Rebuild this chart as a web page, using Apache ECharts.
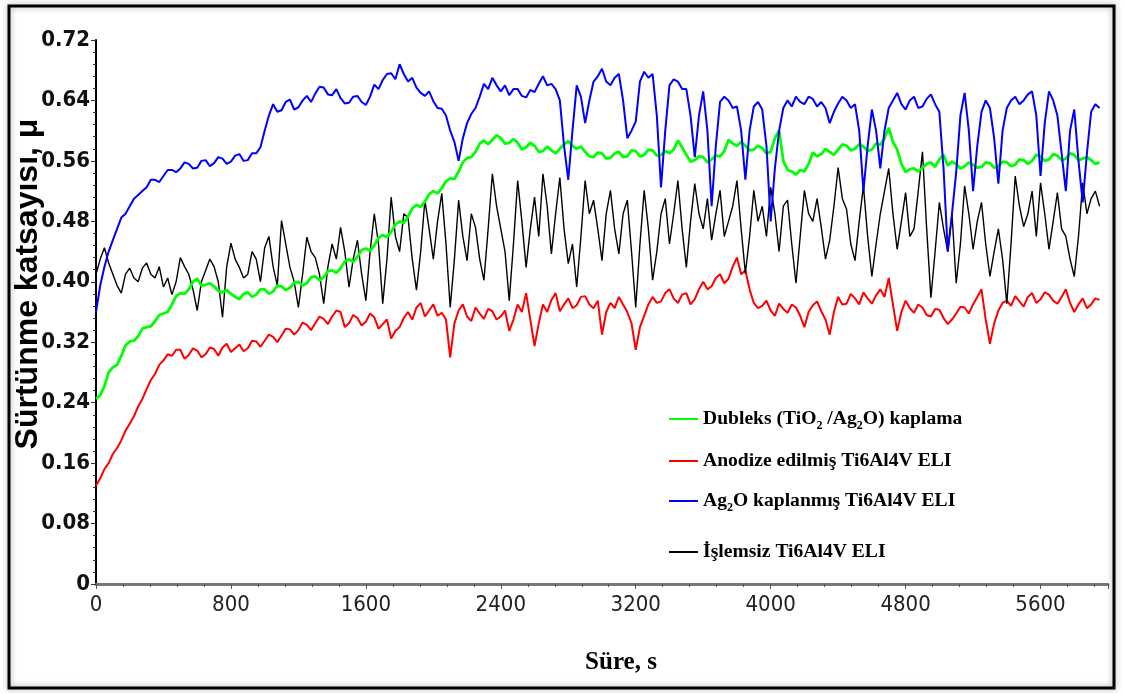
<!DOCTYPE html>
<html>
<head>
<meta charset="utf-8">
<title>Sürtünme katsayısı</title>
<script src="https://cdn.jsdelivr.net/npm/echarts@6/dist/echarts.min.js"></script>
<style>
  html, body { margin: 0; padding: 0; background: #fff; }
  #chart { width: 1124px; height: 693px; }
</style>
</head>
<body>
<div id="chart"></div>
<script>
// sampling step of the read-off values, seconds
const STEP = 25;

const seriesNames = [
  'Dubleks (TiO2 /Ag2O) kaplama',
  'Anodize edilmiş Ti6Al4V ELI',
  'Ag2O kaplanmış Ti6Al4V ELI',
  'İşlemsiz Ti6Al4V ELI'
];

const xTicks = [0, 800, 1600, 2400, 3200, 4000, 4800, 5600];
const yTicks = [0, 0.08, 0.16, 0.24, 0.32, 0.40, 0.48, 0.56, 0.64, 0.72];

// Dubleks (TiO2/Ag2O)
const dubleks = [
  0.245, 0.25, 0.262, 0.28, 0.287, 0.29, 0.302, 0.316, 0.321, 0.322,
  0.328, 0.338, 0.34, 0.341, 0.348, 0.356, 0.358, 0.36, 0.37, 0.381,
  0.385, 0.384, 0.39, 0.4, 0.404, 0.395, 0.396, 0.398, 0.394, 0.388,
  0.386, 0.389, 0.384, 0.38, 0.377, 0.384, 0.386, 0.38, 0.383, 0.39,
  0.39, 0.384, 0.387, 0.395, 0.394, 0.389, 0.392, 0.399, 0.4, 0.395,
  0.398, 0.406, 0.407, 0.402, 0.406, 0.414, 0.415, 0.412, 0.418, 0.427,
  0.43, 0.426, 0.433, 0.442, 0.444, 0.441, 0.448, 0.458, 0.462, 0.459,
  0.466, 0.476, 0.48, 0.478, 0.486, 0.497, 0.502, 0.499, 0.506, 0.516,
  0.52, 0.517, 0.524, 0.533, 0.537, 0.536, 0.546, 0.558, 0.564, 0.565,
  0.572, 0.583, 0.587, 0.582, 0.588, 0.594, 0.59, 0.583, 0.584, 0.589,
  0.584, 0.575, 0.578, 0.584, 0.58, 0.572, 0.573, 0.579, 0.574, 0.57,
  0.576, 0.582, 0.586, 0.58, 0.576, 0.579, 0.572, 0.566, 0.565, 0.571,
  0.57, 0.563, 0.564, 0.57, 0.572, 0.565, 0.566, 0.574, 0.573, 0.566,
  0.568, 0.575, 0.574, 0.567, 0.568, 0.573, 0.57, 0.575, 0.587, 0.578,
  0.568, 0.559, 0.561, 0.566, 0.565, 0.558, 0.562, 0.567, 0.566, 0.573,
  0.588, 0.583, 0.58, 0.585, 0.58, 0.574, 0.575, 0.58, 0.577, 0.57,
  0.572, 0.59, 0.6, 0.56, 0.548, 0.546, 0.542, 0.548, 0.546, 0.556,
  0.571, 0.566, 0.569, 0.576, 0.572, 0.568, 0.575, 0.582, 0.58, 0.574,
  0.576, 0.582, 0.579, 0.573, 0.575, 0.583, 0.581, 0.59, 0.604, 0.585,
  0.575, 0.556, 0.545, 0.549, 0.55, 0.546, 0.551, 0.556, 0.558, 0.552,
  0.562, 0.568, 0.554, 0.559, 0.556, 0.55, 0.553, 0.558, 0.555, 0.551,
  0.552, 0.558, 0.557, 0.551, 0.553, 0.559, 0.558, 0.553, 0.555, 0.562,
  0.561, 0.556, 0.56, 0.568, 0.566, 0.56, 0.562, 0.569, 0.567, 0.561,
  0.563, 0.57, 0.568, 0.561, 0.563, 0.565, 0.561, 0.556, 0.558
];

// Anodize edilmiş Ti6Al4V ELI
const anodize = [
  0.13, 0.14, 0.152, 0.16, 0.172, 0.18, 0.19, 0.203, 0.212, 0.222,
  0.235, 0.245, 0.258, 0.27, 0.278, 0.29, 0.296, 0.304, 0.302, 0.31,
  0.31, 0.298, 0.303, 0.312, 0.309, 0.3, 0.304, 0.313, 0.311, 0.302,
  0.313, 0.318, 0.307, 0.312, 0.317, 0.308, 0.312, 0.322, 0.321, 0.314,
  0.322, 0.33, 0.327, 0.32, 0.329, 0.338, 0.337, 0.33, 0.336, 0.346,
  0.343, 0.336, 0.345, 0.354, 0.351, 0.344, 0.354, 0.362, 0.36, 0.34,
  0.345, 0.356, 0.352, 0.342, 0.347, 0.358, 0.353, 0.338, 0.344, 0.35,
  0.325, 0.335, 0.34, 0.352, 0.36, 0.35, 0.366, 0.372, 0.354, 0.362,
  0.37, 0.355, 0.359, 0.35, 0.3, 0.345, 0.362, 0.37, 0.354, 0.348,
  0.366, 0.358, 0.351, 0.364, 0.361, 0.35, 0.354, 0.362, 0.335, 0.35,
  0.37, 0.36, 0.385, 0.35, 0.315, 0.345, 0.37, 0.36, 0.376, 0.385,
  0.361, 0.37, 0.378, 0.365, 0.369, 0.38, 0.381, 0.37, 0.365, 0.375,
  0.33, 0.36, 0.372, 0.365, 0.38, 0.37, 0.36, 0.345, 0.31, 0.34,
  0.355, 0.37, 0.38, 0.372, 0.374, 0.385, 0.39, 0.378, 0.372, 0.383,
  0.385, 0.37, 0.377, 0.39, 0.4, 0.39, 0.394, 0.405, 0.41, 0.398,
  0.404, 0.42, 0.432, 0.41, 0.415, 0.39, 0.372, 0.365, 0.368, 0.375,
  0.362, 0.355, 0.371, 0.364, 0.359, 0.37, 0.366, 0.355, 0.34, 0.36,
  0.369, 0.374, 0.361, 0.35, 0.33, 0.36, 0.38, 0.37, 0.371, 0.384,
  0.378, 0.37, 0.386, 0.378, 0.371, 0.382, 0.39, 0.38, 0.405, 0.37,
  0.335, 0.36, 0.375, 0.365, 0.359, 0.37, 0.366, 0.356, 0.354, 0.364,
  0.363, 0.352, 0.344, 0.35, 0.358, 0.367, 0.366, 0.358, 0.37, 0.38,
  0.39, 0.35, 0.318, 0.345, 0.362, 0.372, 0.375, 0.368, 0.381, 0.374,
  0.367, 0.38, 0.385, 0.372, 0.377, 0.386, 0.383, 0.375, 0.371, 0.38,
  0.39, 0.372, 0.36, 0.37, 0.378, 0.365, 0.37, 0.378, 0.376
];

// Ag2O kaplanmış Ti6Al4V ELI
const ag2o = [
  0.36, 0.395, 0.42, 0.44, 0.455, 0.47, 0.485, 0.49, 0.5, 0.51,
  0.515, 0.52, 0.525, 0.535, 0.535, 0.532, 0.54, 0.548, 0.548, 0.545,
  0.55, 0.558, 0.556, 0.55, 0.551, 0.56, 0.561, 0.553, 0.557, 0.565,
  0.563, 0.556, 0.559, 0.567, 0.569, 0.56, 0.561, 0.57, 0.57, 0.578,
  0.6, 0.62, 0.635, 0.625, 0.627, 0.638, 0.641, 0.628, 0.631, 0.64,
  0.646, 0.638, 0.649, 0.658, 0.657, 0.648, 0.647, 0.655, 0.643, 0.636,
  0.637, 0.645, 0.646, 0.638, 0.634, 0.645, 0.661, 0.655, 0.667, 0.675,
  0.676, 0.668, 0.688, 0.675, 0.665, 0.67, 0.657, 0.65, 0.646, 0.652,
  0.639, 0.63, 0.629, 0.62, 0.6, 0.585, 0.56, 0.59, 0.61, 0.622,
  0.63, 0.645, 0.662, 0.655, 0.67, 0.66, 0.652, 0.66, 0.647, 0.655,
  0.655, 0.646, 0.644, 0.654, 0.651, 0.662, 0.672, 0.66, 0.662, 0.655,
  0.64, 0.58, 0.535, 0.6, 0.66, 0.645, 0.61, 0.64, 0.665, 0.672,
  0.682, 0.665, 0.66, 0.67, 0.675, 0.64, 0.59, 0.6, 0.612, 0.665,
  0.678, 0.67, 0.675, 0.62, 0.525, 0.6, 0.66, 0.668, 0.665, 0.655,
  0.655, 0.62, 0.565, 0.62, 0.652, 0.6, 0.5, 0.58, 0.638, 0.645,
  0.64, 0.63, 0.632, 0.6, 0.535, 0.6, 0.632, 0.638, 0.628, 0.58,
  0.48, 0.55, 0.6, 0.63, 0.64, 0.632, 0.645, 0.638, 0.635, 0.645,
  0.642, 0.632, 0.638, 0.63, 0.61, 0.625, 0.636, 0.645, 0.64, 0.63,
  0.635, 0.6, 0.52, 0.58, 0.628, 0.6, 0.55, 0.6, 0.63, 0.64,
  0.65, 0.635, 0.628, 0.64, 0.645, 0.63, 0.632, 0.642, 0.648, 0.635,
  0.625, 0.55, 0.44, 0.49, 0.545, 0.62, 0.65, 0.6, 0.52, 0.58,
  0.625, 0.64, 0.63, 0.59, 0.53, 0.6, 0.63, 0.64, 0.645, 0.635,
  0.64, 0.648, 0.652, 0.62, 0.54, 0.61, 0.652, 0.64, 0.62, 0.57,
  0.52, 0.6, 0.628, 0.56, 0.505, 0.57, 0.625, 0.635, 0.63
];

// İşlemsiz Ti6Al4V ELI
const islemsiz = [
  0.41, 0.43, 0.445, 0.425, 0.41, 0.395, 0.385, 0.41, 0.418, 0.405,
  0.4, 0.418, 0.425, 0.41, 0.405, 0.42, 0.393, 0.405, 0.383, 0.4,
  0.432, 0.42, 0.41, 0.39, 0.362, 0.4, 0.415, 0.43, 0.42, 0.4,
  0.353, 0.42, 0.451, 0.43, 0.419, 0.405, 0.41, 0.44, 0.43, 0.4,
  0.445, 0.46, 0.42, 0.395, 0.481, 0.45, 0.419, 0.4, 0.366, 0.41,
  0.459, 0.44, 0.432, 0.41, 0.371, 0.42, 0.45, 0.43, 0.472, 0.44,
  0.393, 0.43, 0.455, 0.41, 0.375, 0.44, 0.49, 0.45, 0.371, 0.43,
  0.512, 0.46, 0.44, 0.49, 0.485, 0.43, 0.389, 0.44, 0.508, 0.47,
  0.43, 0.48, 0.517, 0.45, 0.366, 0.43, 0.508, 0.46, 0.428, 0.49,
  0.472, 0.43, 0.402, 0.47, 0.543, 0.5, 0.47, 0.44, 0.375, 0.45,
  0.534, 0.48, 0.419, 0.47, 0.512, 0.46, 0.543, 0.5, 0.437, 0.49,
  0.538, 0.47, 0.424, 0.45, 0.393, 0.46, 0.534, 0.49, 0.508, 0.47,
  0.428, 0.49, 0.521, 0.47, 0.437, 0.49, 0.508, 0.44, 0.366, 0.45,
  0.521, 0.47, 0.402, 0.44, 0.49, 0.51, 0.45, 0.49, 0.534, 0.47,
  0.419, 0.48, 0.53, 0.49, 0.47, 0.51, 0.455, 0.49, 0.521, 0.46,
  0.48, 0.5, 0.534, 0.47, 0.411, 0.46, 0.521, 0.48, 0.5, 0.46,
  0.525, 0.49, 0.44, 0.5, 0.508, 0.45, 0.398, 0.46, 0.521, 0.49,
  0.48, 0.51, 0.472, 0.43, 0.455, 0.5, 0.551, 0.51, 0.496, 0.45,
  0.428, 0.48, 0.527, 0.46, 0.407, 0.45, 0.49, 0.52, 0.55, 0.49,
  0.443, 0.48, 0.518, 0.46, 0.47, 0.52, 0.572, 0.47, 0.379, 0.44,
  0.505, 0.47, 0.44, 0.49, 0.398, 0.45, 0.527, 0.49, 0.443, 0.48,
  0.505, 0.45, 0.407, 0.44, 0.47, 0.43, 0.371, 0.45, 0.54, 0.5,
  0.473, 0.49, 0.52, 0.46, 0.531, 0.49, 0.443, 0.48, 0.518, 0.47,
  0.46, 0.43, 0.407, 0.46, 0.531, 0.49, 0.51, 0.52, 0.5
];

const colors = ['#00ff00', '#ff0000', '#0000ff', '#000000'];
const widths = [2.8, 2, 2, 1.4];
const values = [dubleks, anodize, ag2o, islemsiz];
const legendRows = [404, 446, 486, 537];

function pairs(arr) {
  return arr.map((v, i) => [i * STEP, v]);
}

// legend labels with subscripts
const legendText = {
  'Dubleks (TiO2 /Ag2O) kaplama': '{n|Dubleks (TiO}{s|2}{n| /Ag}{s|2}{n|O) kaplama}',
  'Anodize edilmiş Ti6Al4V ELI': '{n|Anodize edilmiş Ti6Al4V ELI}',
  'Ag2O kaplanmış Ti6Al4V ELI': '{n|Ag}{s|2}{n|O kaplanmış Ti6Al4V ELI}',
  'İşlemsiz Ti6Al4V ELI': '{n|İşlemsiz Ti6Al4V ELI}'
};

const serif = "'Liberation Serif', 'Times New Roman', serif";
const narrow = "'Liberation Sans Narrow', 'DejaVu Sans Condensed', Arial, sans-serif";

const chart = echarts.init(document.getElementById('chart'), null, { renderer: 'canvas' });

chart.setOption({
  backgroundColor: '#fff',
  animation: false,
  grid: { left: 96, right: 16, top: 40, bottom: 109, containLabel: false, outerBoundsMode: 'none' },
  legend: seriesNames.map((name, i) => ({
    data: [name],
    left: 664,
    top: legendRows[i],
    icon: 'rect',
    itemWidth: 29,
    itemHeight: 2,
    selectedMode: false,
    formatter: (n) => legendText[n],
    textStyle: {
      rich: {
        n: { fontFamily: serif, fontWeight: 'bold', fontSize: 19.6, color: '#000', lineHeight: 26, verticalAlign: 'middle' },
        s: { fontFamily: serif, fontWeight: 'bold', fontSize: 12, color: '#000', lineHeight: 12, verticalAlign: 'bottom' }
      }
    }
  })),
  xAxis: {
    type: 'value',
    min: 0,
    max: 6000,
    interval: 800,
    name: 'Süre, s',
    nameLocation: 'middle',
    nameGap: 66,
    nameTextStyle: { fontFamily: serif, fontWeight: 'bold', fontSize: 25, color: '#000', padding: [0, 0, 0, 38] },
    axisLine: { onZero: false, lineStyle: { color: '#777', width: 3 } },
    axisTick: { length: 5, lineStyle: { color: '#555' } },
    minorTick: { show: true, splitNumber: 5, length: 3, lineStyle: { color: '#555' } },
    splitLine: { show: false },
    axisLabel: {
      margin: 10,
      fontFamily: narrow,
      fontSize: 22,
      color: '#222',
      formatter: (v) => (xTicks.includes(v) ? String(v) : '')
    }
  },
  yAxis: {
    type: 'value',
    min: 0,
    max: 0.72,
    interval: 0.08,
    axisLine: { lineStyle: { color: '#000', width: 2 } },
    axisTick: { length: 5, lineStyle: { color: '#333' } },
    minorTick: { show: true, splitNumber: 5, length: 3, lineStyle: { color: '#333' } },
    splitLine: { show: false },
    axisLabel: {
      margin: 6,
      fontFamily: narrow,
      fontWeight: 'bold',
      fontSize: 22,
      color: '#111',
      formatter: (v) => {
        const t = yTicks.find((y) => Math.abs(y - v) < 1e-6);
        if (t === undefined) return '';
        return t === 0 ? '0' : t.toFixed(2);
      }
    }
  },
  graphic: [{
    type: 'rect',
    shape: { x: 9, y: 6, width: 1105, height: 682 },
    style: { fill: null, stroke: '#000', lineWidth: 3, shadowBlur: 6, shadowColor: 'rgba(0,0,0,0.35)' },
    silent: true
  }, {
    // y axis title
    type: 'text',
    x: 28,
    y: 284,
    rotation: Math.PI / 2,
    style: {
      text: 'Sürtünme katsayısı, μ',
      fontFamily: "'Liberation Sans', Arial, sans-serif",
      fontWeight: 'bold',
      fontSize: 32,
      fill: '#000',
      align: 'center',
      verticalAlign: 'middle'
    },
    silent: true
  }],
  // draw order: red, black, green, blue on top
  series: [1, 3, 0, 2].map((i) => ({
    name: seriesNames[i],
    type: 'line',
    data: pairs(values[i]),
    showSymbol: false,
    symbol: 'none',
    lineStyle: { color: colors[i], width: widths[i] },
    itemStyle: { color: colors[i] },
    z: 2
  }))
});
</script>
</body>
</html>
